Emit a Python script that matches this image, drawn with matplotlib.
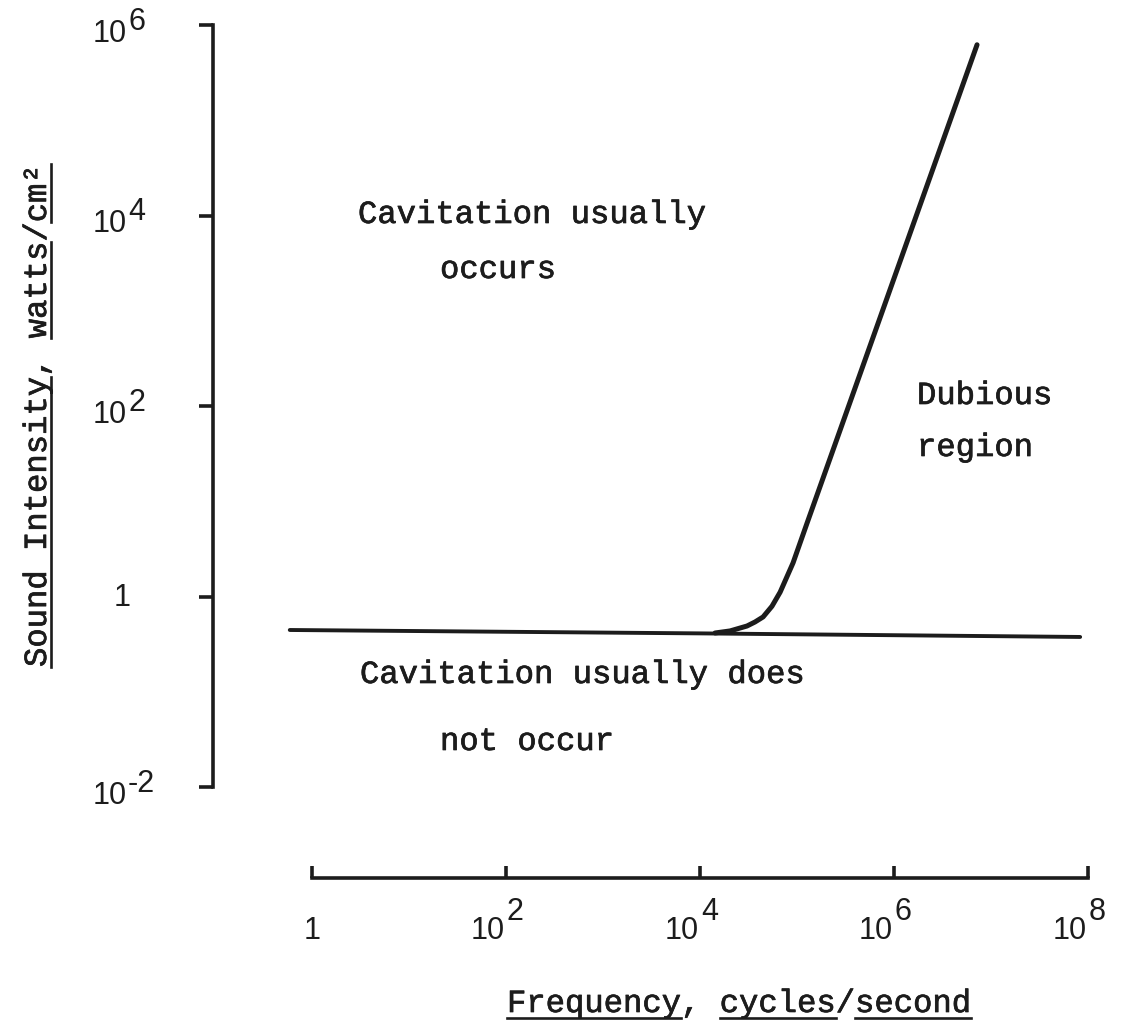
import matplotlib
matplotlib.use("Agg")
import matplotlib.pyplot as plt
import matplotlib.transforms as mtransforms
import matplotlib.patheffects as pe
from matplotlib.ticker import NullLocator, FixedLocator, NullFormatter

# ---------------- data ----------------
# horizontal boundary line: cavitation threshold at low frequency
boundary_freq = [0.59, 1.0e4, 8.3e7]
boundary_int = [0.445, 0.41, 0.376]

# rising threshold curve
curve_freq = [1.43e4, 2.04e4, 3.05e4, 3.69e4, 4.47e4, 5.52e4, 6.7e4, 9.1e4, 1.27e5, 7.18e6]
curve_int = [0.414, 0.435, 0.49, 0.54, 0.61, 0.79, 1.11, 2.25, 5.9, 6.2e5]

# axes ticks
y_ticks = [1e-2, 1, 1e2, 1e4, 1e6]
y_tick_exp = ["-2", None, "2", "4", "6"]
x_ticks = [1, 1e2, 1e4, 1e6, 1e8]
x_tick_exp = [None, "2", "4", "6", "8"]

y_label = "Sound Intensity, watts/cm\u00b2"
y_label_underlined = [(0, 15), (17, 22), (23, 26)]
x_label = "Frequency, cycles/second"
x_label_underlined = [(0, 9), (11, 17), (18, 24)]

annotations = [
    ("Cavitation usually", 358, 223),
    ("occurs", 440, 278),
    ("Dubious", 917, 404),
    ("region", 917, 456),
    ("Cavitation usually does", 360, 683),
    ("not occur", 440, 750),
]

# ---------------- layout ----------------
W, H = 1125, 1025
DPI = 100
INK = "#1c1c1c"
MONO = "Liberation Mono"
SANS = "Liberation Sans"
MONO_SIZE = 23.2
ADV = 0.6 * MONO_SIZE * DPI / 72.0   # monospace advance in px
TICK_SIZE = 22
HEAVY = [pe.withStroke(linewidth=0.5, foreground=INK)]

def fx(px):
    return px / W

def fy(py):
    return 1 - py / H

fig = plt.figure(figsize=(W / DPI, H / DPI), dpi=DPI)
fig.patch.set_facecolor("white")

# pixel mapping of the decades
X_PX_ONE, X_PX_PER_DEC = 312, 97.0
AX_LEFT, AX_RIGHT = 213, 1100
Y_TOP, Y_BOT = 25, 787
X_AXIS_Y = 878

xlo = 10 ** ((AX_LEFT - X_PX_ONE) / X_PX_PER_DEC)
xhi = 10 ** ((AX_RIGHT - X_PX_ONE) / X_PX_PER_DEC)

ax = fig.add_axes([fx(AX_LEFT), fy(Y_BOT), fx(AX_RIGHT) - fx(AX_LEFT), fy(Y_TOP) - fy(Y_BOT)])
ax.set_xscale("log")
ax.set_yscale("log")
ax.set_xlim(xlo, xhi)
ax.set_ylim(1e-2, 1e6)
ax.patch.set_alpha(0)
for s in ["top", "right", "bottom"]:
    ax.spines[s].set_visible(False)
ax.spines["left"].set_linewidth(2.6)
ax.spines["left"].set_color(INK)
ax.yaxis.set_major_locator(FixedLocator(y_ticks))
ax.yaxis.set_minor_locator(NullLocator())
ax.yaxis.set_major_formatter(NullFormatter())
ax.xaxis.set_major_locator(NullLocator())
ax.xaxis.set_minor_locator(NullLocator())
ax.tick_params(axis="y", direction="out", length=10, width=2.6, color=INK)

ax.plot(boundary_freq, boundary_int, color=INK, lw=2.8, solid_capstyle="round", clip_on=False)
ax.plot(curve_freq, curve_int, color=INK, lw=3.6, solid_capstyle="round",
        solid_joinstyle="round", clip_on=False)

# y tick labels: "10" with large raised exponent
def off(dx, dy):
    return mtransforms.ScaledTranslation(dx / DPI, dy / DPI, fig.dpi_scale_trans)

ytr = mtransforms.blended_transform_factory(fig.transFigure, ax.transData)
for v, e in zip(y_ticks, y_tick_exp):
    if e is None:
        fig.text(fx(122), v, "1", transform=ytr + off(0, -1), ha="center", va="center",
                 family=SANS, size=TICK_SIZE, color=INK)
    else:
        fig.text(fx(127), v, "10", transform=ytr + off(0, -9), ha="right", va="center",
                 family=SANS, size=TICK_SIZE, color=INK)
        fig.text(fx(128), v, e, transform=ytr + off(0, 3), ha="left", va="center",
                 family=SANS, size=TICK_SIZE, color=INK)

# separate x axis
ax2 = fig.add_axes([fx(AX_LEFT), fy(X_AXIS_Y), fx(AX_RIGHT) - fx(AX_LEFT), 0.0005])
ax2.set_xscale("log")
ax2.set_xlim(xlo, xhi)
ax2.patch.set_alpha(0)
for s in ["top", "right", "left"]:
    ax2.spines[s].set_visible(False)
ax2.spines["bottom"].set_linewidth(2.6)
ax2.spines["bottom"].set_color(INK)
ax2.spines["bottom"].set_bounds(x_ticks[0], x_ticks[-1])
ax2.set_yticks([])
ax2.xaxis.set_major_locator(FixedLocator(x_ticks))
ax2.xaxis.set_minor_locator(NullLocator())
ax2.xaxis.set_major_formatter(NullFormatter())
ax2.tick_params(axis="x", direction="in", length=9, width=2.6, color=INK)

xtr = mtransforms.blended_transform_factory(ax2.transData, fig.transFigure)
for v, e in zip(x_ticks, x_tick_exp):
    if e is None:
        fig.text(v, fy(931), "1", transform=xtr, ha="center", va="center",
                 family=SANS, size=TICK_SIZE, color=INK)
    else:
        fig.text(v, fy(931), "10", transform=xtr + off(-1, 0), ha="right", va="center",
                 family=SANS, size=TICK_SIZE, color=INK)
        fig.text(v, fy(912), e, transform=xtr + off(1, 0), ha="left", va="center",
                 family=SANS, size=TICK_SIZE, color=INK)

# annotations (typewriter)
for s, x, y in annotations:
    fig.text(fx(x), fy(y), s, ha="left", va="baseline", family=MONO, size=MONO_SIZE,
             color=INK, path_effects=HEAVY)

# x label with underlines
XL_X, XL_BASE = 507, 1012
fig.text(fx(XL_X), fy(XL_BASE), x_label, ha="left", va="baseline", family=MONO,
         size=MONO_SIZE, color=INK, path_effects=HEAVY)
for i, j in x_label_underlined:
    fig.add_artist(plt.Line2D([fx(XL_X + i * ADV), fx(XL_X + j * ADV)],
                              [fy(XL_BASE + 5.5), fy(XL_BASE + 5.5)],
                              transform=fig.transFigure, color=INK, lw=1.9))

# y label (rotated) with underlines
YL_BASE, YL_START = 46, 667
fig.text(fx(YL_BASE), fy(YL_START), y_label, rotation=90, rotation_mode="anchor",
         ha="left", va="baseline", family=MONO, size=MONO_SIZE, color=INK,
         path_effects=HEAVY)
for i, j in y_label_underlined:
    fig.add_artist(plt.Line2D([fx(YL_BASE + 5), fx(YL_BASE + 5)],
                              [fy(YL_START - i * ADV), fy(YL_START - j * ADV)],
                              transform=fig.transFigure, color=INK, lw=1.9))

fig.savefig("out.png", dpi=DPI, facecolor="white")
